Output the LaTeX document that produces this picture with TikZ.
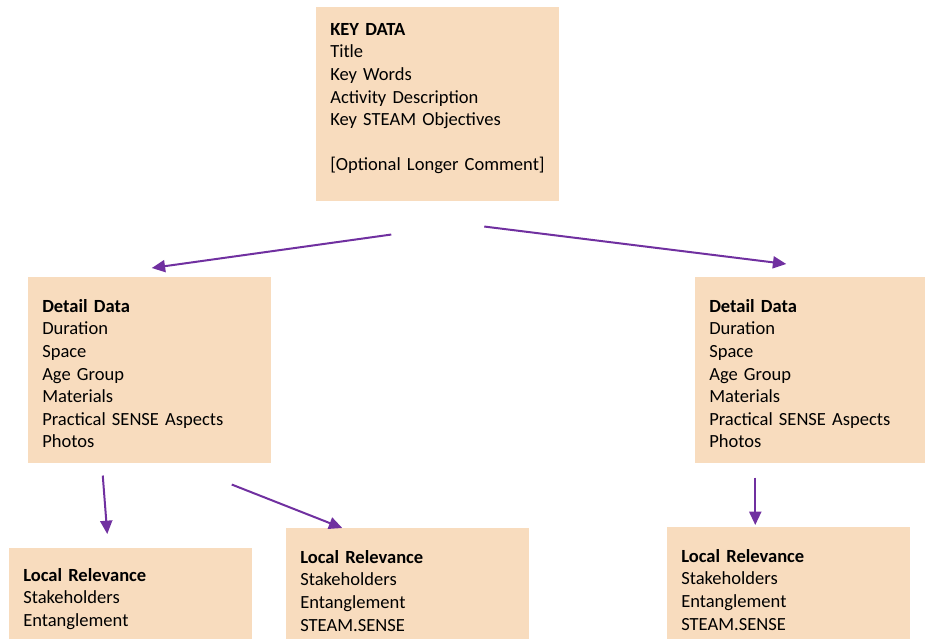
\documentclass[tikz,border=0pt]{standalone}
\usepackage{fontspec}
\setmainfont{Carlito}
\usepackage{xcolor}
\usepackage{tikz}
\usetikzlibrary{positioning,calc,arrows.meta}
\definecolor{boxfill}{HTML}{F8DCBE}
\definecolor{flowpurple}{HTML}{7030A0}

\begin{document}
\begin{tikzpicture}[x=0.75pt,y=-0.75pt,
    databox/.style={fill=boxfill, anchor=north west, inner xsep=10.5pt, inner ysep=0pt,
        text width=161.25pt, align=left, font=\fontsize{13.9pt}{16.95pt}\selectfont},
    flow/.style={draw=flowpurple, line width=1.5pt, -{Triangle[length=10pt,width=9pt]}}]
    \useasboundingbox (0,0) rectangle (925,639);
    \clip (0,0) rectangle (925,639);

    \node [databox, text height=21pt, text depth=124.5pt] (keydata) at (316,7)
        {\textbf{KEY DATA}\\ Title\\ Key Words\\ Activity Description\\ Key STEAM Objectives\\[16.95pt] [Optional Longer Comment]};

    \node [databox, text height=26.25pt, text depth=113.25pt] (detleft) at (28,277)
        {\textbf{Detail Data}\\ Duration\\ Space\\ Age Group\\ Materials\\ Practical SENSE Aspects\\ Photos};
    \node [databox, text height=26.25pt, text depth=113.25pt] (detright) at (695,277)
        {\textbf{Detail Data}\\ Duration\\ Space\\ Age Group\\ Materials\\ Practical SENSE Aspects\\ Photos};

    \node [databox, text height=24.75pt, text depth=90pt] (locleft) at (9,548)
        {\textbf{Local Relevance}\\ Stakeholders\\ Entanglement};
    \node [databox, text height=26.25pt, text depth=90pt] (locmid) at (286,528)
        {\textbf{Local Relevance}\\ Stakeholders\\ Entanglement\\ STEAM.SENSE};
    \node [databox, text height=26.25pt, text depth=90pt] (locright) at (667,527)
        {\textbf{Local Relevance}\\ Stakeholders\\ Entanglement\\ STEAM.SENSE};

    % arrows between the boxes
    \draw [flow] ($(keydata.south)+(-46.5,33)$) -- ($(detleft.north)+(2,-9)$);
    \draw [flow] ($(keydata.south)+(46.5,25)$) -- ($(detright.north)+(-30.5,-13)$);
    \draw [flow] ($(detleft.south)+(-47,12)$) -- ($(locleft.north)+(-23.5,-14)$);
    \draw [flow] ($(detleft.south)+(82,21)$) -- ($(locmid.north)+(-65.5,0)$);
    \draw [flow] ($(detright.south)+(-61.5,14)$) -- ($(locright.north)+(-33.5,-2)$);
\end{tikzpicture}
\end{document}
